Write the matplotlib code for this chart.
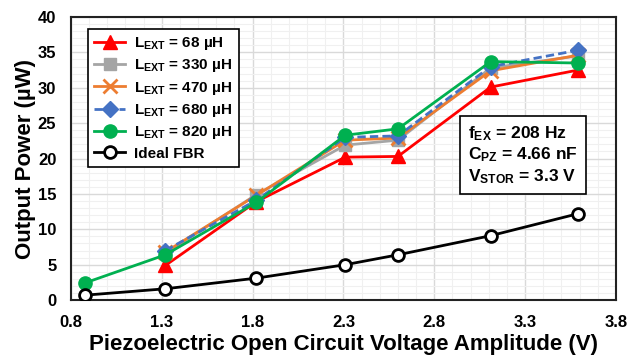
import matplotlib
matplotlib.use("Agg")
import matplotlib.pyplot as plt
from matplotlib.ticker import MultipleLocator

plt.rcParams['font.family'] = ['Liberation Sans', 'DejaVu Sans']
plt.rcParams['mathtext.fontset'] = 'custom'
plt.rcParams['mathtext.rm'] = 'Liberation Sans:bold'
plt.rcParams['mathtext.bf'] = 'Liberation Sans:bold'
plt.rcParams['mathtext.it'] = 'Liberation Sans:bold'

x_all = [0.88, 1.32, 1.82, 2.31, 2.60, 3.11, 3.59]
x_l = x_all[1:]

p68 = [4.9, 13.9, 20.2, 20.3, 30.1, 32.5]
p330 = [6.6, 14.9, 21.9, 22.6, 32.8, 34.5]
p470 = [6.8, 14.8, 22.6, 22.9, 32.4, 34.6]
p680 = [7.0, 14.1, 23.0, 23.2, 33.0, 35.3]
p820 = [2.45, 6.4, 13.8, 23.3, 24.2, 33.7, 33.5]
ideal = [0.7, 1.6, 3.1, 5.0, 6.4, 9.1, 12.2]

labels = [r'L$_{\mathbf{EXT}}$ = 68 µH', r'L$_{\mathbf{EXT}}$ = 330 µH',
          r'L$_{\mathbf{EXT}}$ = 470 µH', r'L$_{\mathbf{EXT}}$ = 680 µH',
          r'L$_{\mathbf{EXT}}$ = 820 µH', 'Ideal FBR']

xticks = [0.8, 1.3, 1.8, 2.3, 2.8, 3.3, 3.8]
yticks = [0, 5, 10, 15, 20, 25, 30, 35, 40]

fig = plt.figure(figsize=(6.39, 3.62), dpi=100)
ax = fig.add_axes([0.111, 0.171, 0.853, 0.782])

lw = 2.0
ax.plot(x_l, p68, color='#FF0000', lw=lw, marker='^', ms=9.5, label=labels[0], zorder=3)
ax.plot(x_l, p330, color='#A5A5A5', lw=lw, marker='s', ms=8.5, label=labels[1], zorder=3)
ax.plot(x_l, p470, color='#ED7D31', lw=lw, marker='x', ms=9.5, mew=2, label=labels[2], zorder=3)
ax.plot(x_l, p680, color='#4472C4', lw=lw, ls=(0, (3, 1.5)), marker='D', ms=8, label=labels[3], zorder=3)
ax.plot(x_all, p820, color='#00B050', lw=lw, marker='o', ms=9.5, label=labels[4], zorder=3)
ax.plot(x_all, ideal, color='black', lw=lw, marker='o', ms=8.5, mfc='white', mew=2, label=labels[5], zorder=3)

ax.set_xlim(0.8, 3.8)
ax.set_ylim(0, 40)
ax.set_xticks(xticks)
ax.set_yticks(yticks)
ax.set_xticklabels([f'{v:.1f}' for v in xticks])
ax.xaxis.set_minor_locator(MultipleLocator(0.1))
ax.yaxis.set_minor_locator(MultipleLocator(1))
ax.grid(which='major', color='#d9d9d9', lw=1.0, zorder=0)
ax.grid(which='minor', color='#f0f0f0', lw=0.8, zorder=0)
ax.set_axisbelow(True)
ax.tick_params(which='both', length=0)
ax.tick_params(axis='x', labelsize=12, pad=10.5)
ax.tick_params(axis='y', labelsize=12, pad=10.5)
for lab in ax.get_xticklabels() + ax.get_yticklabels():
    lab.set_fontweight('bold')
for s in ax.spines.values():
    s.set_color('#222222')
    s.set_linewidth(1.5)

ax.set_xlabel('Piezoelectric Open Circuit Voltage Amplitude (V)', fontsize=16, fontweight='bold', labelpad=3)
ax.set_ylabel('Output Power (µW)', fontsize=16, fontweight='bold', labelpad=1)

leg = ax.legend(loc='upper left', bbox_to_anchor=(0.018, 0.985), prop={'size': 11, 'weight': 'bold'},
                frameon=True, fancybox=False, edgecolor='black', framealpha=1,
                handlelength=2.0, labelspacing=0.35, borderpad=0.4, handletextpad=0.6)
leg.get_frame().set_linewidth(1.2)

ax.text(0.729, 0.622, 'f$_{\\mathbf{EX}}$ = 208 Hz\nC$_{\\mathbf{PZ}}$ = 4.66 nF\nV$_{\\mathbf{STOR}}$ = 3.3 V',
        transform=ax.transAxes, fontsize=12.5, fontweight='bold', va='top', ha='left', linespacing=1.2,
        bbox=dict(boxstyle='square,pad=0.45', fc='white', ec='black', lw=1.2), zorder=5)

fig.savefig('out.png', dpi=100)
